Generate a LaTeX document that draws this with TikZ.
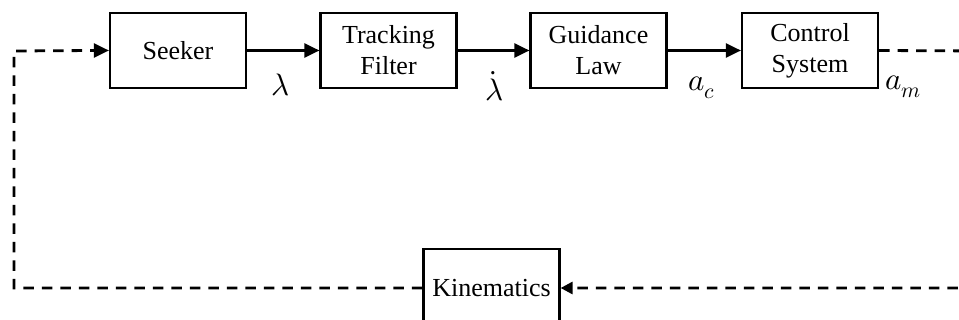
\documentclass[tikz,border=0pt]{standalone}
\usepackage{fontspec}
\usepackage{unicode-math}
\setmainfont{Liberation Serif}
\setmathfont{Latin Modern Math}
\usetikzlibrary{arrows.meta}
\begin{document}
\begin{tikzpicture}[x=1pt,y=-1pt,
  blk/.style={draw,line width=2.2pt,minimum width=136pt,minimum height=75pt,inner sep=0pt,align=center,font=\fontsize{26}{31}\selectfont},
  sig/.style={line width=2.4pt,-{Triangle[length=15pt,width=14pt]}},
  fb/.style={line width=2.8pt,dash pattern=on 10.5pt off 8pt},
  lbl/.style={font=\fontsize{31}{34}\selectfont,inner sep=0pt}]
\useasboundingbox (0,0) rectangle (959,320);
\clip (0,0) rectangle (959,320);
\node[blk] (seek) at (178,50.5) {Seeker};
\node[blk] (track) at (388.5,50.5) {Tracking\\Filter};
\node[blk] (guid) at (598.5,50.5) {Guidance\\Law};
\node[blk] (ctrl) at (810,50.5) {Control\\System};
\node[blk,minimum height=78pt] (kin) at (491.5,288) {Kinematics};
\coordinate (tl) at (14,51);
\coordinate (bl) at (14,288);
\coordinate (tr) at (985,51);
\coordinate (br) at (985,288);
\draw[sig] (seek.east) -- (track.west);
\draw[sig] (track.east) -- (guid.west);
\draw[sig] (guid.east) -- (ctrl.west);
\draw[fb,-{Triangle[length=12pt,width=12pt]}] (ctrl.east) -- (tr) -- (br) -- (kin.east);
\draw[fb] (kin.west) -- (bl) -- (tl) -- ([xshift=-15pt]seek.west);
\draw[line width=2.4pt,-{Triangle[length=15pt,width=14pt]}] ([xshift=-16pt]seek.west) -- (seek.west);
\node[lbl] (l1) at (281,85) {$\lambda$};
\node[lbl] (l2) at (495,86) {$\dot{\lambda}$};
\node[lbl] (l3) at (702,88) {$a_c$};
\node[lbl] (l4) at (903,87) {$a_m$};
\end{tikzpicture}
\end{document}
